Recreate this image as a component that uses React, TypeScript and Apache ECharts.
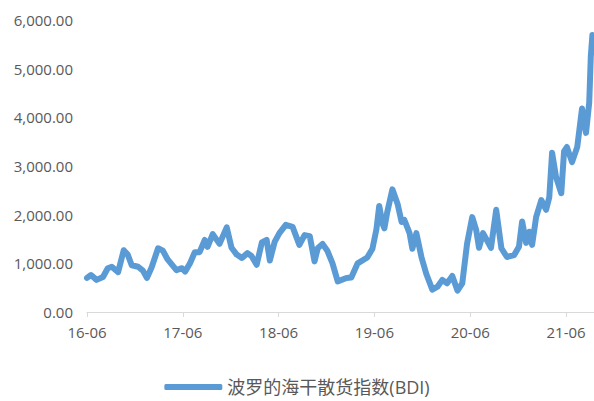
import React, { useEffect, useRef } from "react";
import * as echarts from "echarts";

// months elapsed since 2016-06
const months = [
  0, 0.5, 1.2, 2, 2.6, 3.1, 3.9, 4.6, 5.1, 5.6, 6.4, 7.0, 7.5, 8.1, 8.9, 9.5, 10.1, 11.2, 11.9, 12.3,
  12.9, 13.5, 14.1, 14.75, 15.1, 15.75, 16.6, 17.5, 18.1, 18.75, 19.4, 20.1, 20.6, 21.25, 21.9, 22.5,
  22.9, 23.5, 24.1, 24.9, 25.75, 26.6, 27.25, 27.9, 28.5, 28.9, 29.5, 30.1, 30.75, 31.4, 32.5, 33.1,
  33.9, 35.1, 35.75, 36.25, 36.6, 37.0, 37.25, 37.6, 38.25, 38.9, 39.4, 39.75, 40.4, 40.75, 41.25,
  41.9, 42.5, 43.25, 43.9, 44.5, 45.1, 45.75, 46.4, 47.0, 47.6, 48.25, 48.75, 49.1, 49.6, 50.6, 51.25,
  51.9, 52.6, 53.5, 54.1, 54.5, 55.0, 55.4, 55.75, 56.25, 56.9, 57.5, 57.9, 58.25, 58.75, 59.4, 59.75,
  60.1, 60.75, 61.4, 62.0, 62.5, 62.9, 63.1, 63.3,
];

const bdi = [
  700, 760, 660, 720, 900, 930, 820, 1270, 1180, 960, 930, 850, 700, 920, 1310, 1260, 1080, 860, 900, 830,
  1000, 1230, 1230, 1480, 1340, 1600, 1400, 1740, 1320, 1180, 1110, 1210, 1150, 970, 1430, 1480,
  1060, 1440, 1620, 1790, 1750, 1380, 1580, 1560, 1040, 1310, 1400, 1260, 1000, 630, 700, 710,
  1000, 1120, 1300, 1700, 2180, 1820, 1720, 2050, 2520, 2220, 1850, 1890, 1620, 1300, 1620,
  1120, 780, 460, 520, 660, 590, 740, 440, 590, 1400, 1950, 1680, 1320, 1620, 1320, 2100,
  1310, 1130, 1170, 1340, 1860, 1420, 1650, 1380, 1950, 2300, 2100, 2360, 3270, 2770, 2440, 3300,
  3390, 3080, 3390, 4180, 3680, 4300, 5250, 5690,
];

const xTickMonths = [0, 12, 24, 36, 48, 60];
const xTickLabels = ["16-06", "17-06", "18-06", "19-06", "20-06", "21-06"];
const seriesName = "波罗的海干散货指数(BDI)";

const FONT = "'Open Sans', 'Noto Sans CJK SC', sans-serif";
const LABEL_COLOR = "#595959";
const LINE_COLOR = "#5B9BD5";

function fmt(v: number): string {
  const s = Math.round(v).toString().replace(/\B(?=(\d{3})+(?!\d))/g, ",");
  return s + ".00";
}

export default function App() {
  const ref = useRef<HTMLDivElement>(null);
  useEffect(() => {
    if (!ref.current) return;
    const chart = echarts.init(ref.current, undefined, { renderer: "svg" });
    chart.setOption({
      animation: false,
      backgroundColor: "#ffffff",
      grid: { left: 87, top: 20, width: 508, bottom: 89, containLabel: false },
      legend: {
        data: [seriesName],
        left: "center",
        top: 376,
        padding: 0,
        itemWidth: 58,
        itemHeight: 6,
        icon: "roundRect",
        textStyle: { fontFamily: FONT, fontSize: 18, lineHeight: 22, color: LABEL_COLOR },
      },
      xAxis: {
        type: "value",
        min: 0,
        max: 63.5,
        interval: 12,
        splitLine: { show: false },
        axisLine: { show: true, lineStyle: { color: "#d9d9d9", width: 1 } },
        axisTick: { show: true, length: 5, lineStyle: { color: "#d9d9d9" }, customValues: xTickMonths },
        axisLabel: {
          color: LABEL_COLOR,
          fontFamily: FONT,
          fontSize: 15,
          margin: 12,
          customValues: xTickMonths,
          formatter: (v: number) => {
            const i = xTickMonths.indexOf(Math.round(v));
            return i >= 0 ? xTickLabels[i] : "";
          },
        },
      },
      yAxis: {
        type: "value",
        min: 0,
        max: 6000,
        interval: 1000,
        splitLine: { show: false },
        axisLine: { show: false },
        axisTick: { show: false },
        axisLabel: {
          color: LABEL_COLOR,
          fontFamily: FONT,
          fontSize: 15,
          margin: 14,
          formatter: (v: number) => fmt(v),
        },
      },
      series: [
        {
          name: seriesName,
          type: "line",
          data: months.map((m, i) => [m, bdi[i]]),
          showSymbol: false,
          symbol: "none",
          clip: false,
          lineStyle: { color: LINE_COLOR, width: 6, join: "round", cap: "round" },
          itemStyle: { color: LINE_COLOR },
        },
      ],
    });
    return () => chart.dispose();
  }, []);
  return (
    <div
      ref={ref}
      style={{ position: "fixed", left: 0, top: 0, width: 594, height: 401, background: "#fff" }}
    />
  );
}
